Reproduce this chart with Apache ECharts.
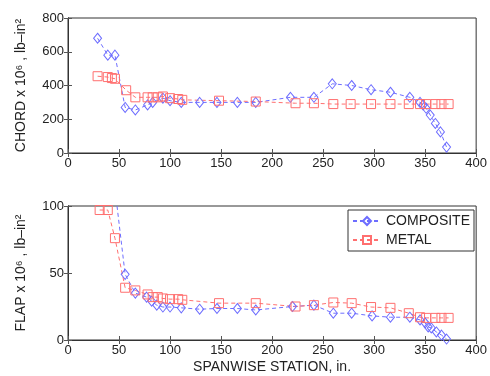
<!DOCTYPE html>
<html>
<head>
<meta charset="utf-8">
<script src="https://cdn.jsdelivr.net/npm/echarts@6/dist/echarts.min.js"></script>
<style>
  html, body { margin: 0; padding: 0; background: #fff; }
  #chart { width: 490px; height: 376px; }
</style>
</head>
<body>
<div id="chart"></div>
<script>
// chord stiffness (x 10^6 lb-in^2) vs spanwise station (in.)
const chordComposite = [
  [29, 680], [39, 580], [46, 580], [56, 270], [66, 255], [78, 285], [83, 300],
  [93, 325], [100, 310], [111, 300], [129, 300], [146, 300], [166, 300],
  [184, 300], [218, 330], [241, 330], [259, 410], [278, 400], [297, 375],
  [316, 360], [335, 330], [345, 300], [348, 285], [351, 265], [355, 225],
  [360, 175], [365, 125], [371, 35]
];
const chordMetal = [
  [29, 455], [39, 450], [43, 444], [46, 440], [57, 372], [66, 330], [78, 330],
  [83, 330], [88, 330], [93, 335], [100, 325], [108, 320], [112, 315],
  [148, 310], [184, 305], [223, 295], [241, 295], [260, 290], [277, 290],
  [297, 290], [316, 290], [334, 290], [345, 290], [351, 290], [360, 290],
  [366, 290], [373, 290]
];
// flap stiffness
const flapComposite = [
  [29, 150], [39, 130], [46, 113], [56, 49], [66, 35], [77, 32], [82, 29],
  [87, 26], [93, 24.6], [100, 24.6], [111, 24], [129, 23], [146, 23.5],
  [166, 23.5], [184, 22.4], [220, 25], [241, 26], [260, 20], [278, 20],
  [298, 18], [316, 17], [335, 17], [345, 15], [350, 12.7], [353, 9.7],
  [356, 9], [361, 6], [366, 3.7], [371, 0.7]
];
const flapMetal = [
  [31, 97], [39, 97], [46, 76], [56, 39], [66, 37], [78, 34], [83, 32],
  [88, 32], [93, 31], [100, 30.5], [108, 30.5], [112, 30], [148, 27.5],
  [184, 27.5], [223, 25], [241, 26], [260, 28], [278, 27.5], [297, 24.6],
  [316, 24], [334, 20], [345, 17], [351, 16.5], [360, 16.5], [366, 16.5],
  [373, 16.5]
];

const BLUE = "#6d6dff";
const RED = "#ff6f6f";
const FONT = "Liberation Sans, Arial, sans-serif";

const chart = echarts.init(document.getElementById("chart"), null, { renderer: "canvas" });

function xAxes(gridIndex, withName) {
  const common = {
    gridIndex, type: "value", min: 0, max: 400, interval: 50,
    axisLine: { lineStyle: { color: "#333" } },
    axisTick: { inside: true, length: 4, lineStyle: { color: "#555" } },
    splitLine: { show: false },
  };
  return [
    Object.assign({}, common, {
      position: "bottom",
      axisLabel: { color: "#222", fontSize: 13, fontFamily: FONT, margin: 4 },
      name: withName ? "SPANWISE STATION, in." : "",
      nameLocation: "middle", nameGap: 20,
      nameTextStyle: { color: "#222", fontSize: 14, fontFamily: FONT },
    }),
    Object.assign({}, common, { position: "top", axisLabel: { show: false } }),
  ];
}

function yAxes(gridIndex, max, interval, name) {
  const common = {
    gridIndex, type: "value", min: 0, max, interval,
    axisLine: { lineStyle: { color: "#333" } },
    axisTick: { inside: true, length: 4, lineStyle: { color: "#555" } },
    splitLine: { show: false },
  };
  return [
    Object.assign({}, common, {
      position: "left",
      axisLabel: { color: "#222", fontSize: 13, fontFamily: FONT, margin: 4 },
      name, nameLocation: "middle", nameRotate: 90, nameGap: 40,
      nameTextStyle: { color: "#222", fontSize: 14, fontFamily: FONT },
    }),
    Object.assign({}, common, { position: "right", axisLabel: { show: false } }),
  ];
}

function series(name, data, xi, yi, color, symbol) {
  return {
    name, type: "line", data, xAxisIndex: xi, yAxisIndex: yi,
    symbol, symbolSize: symbol === "diamond" ? [8, 10] : 9,
    showAllSymbol: true, clip: true,
    lineStyle: { color, width: 1, type: [4, 3] },
    itemStyle: { color: "transparent", borderColor: color, borderWidth: 1 },
    emphasis: { disabled: true },
    animation: false,
  };
}

chart.setOption({
  animation: false,
  grid: [
    { left: 68, top: 18, width: 410, height: 135, show: true, borderColor: "#333", borderWidth: 1 },
    { left: 68, top: 206, width: 410, height: 134, show: true, borderColor: "#333", borderWidth: 1 },
  ],
  xAxis: [...xAxes(0, false), ...xAxes(1, true)],
  yAxis: [
    ...yAxes(0, 800, 200, "CHORD x 10\u2076 , lb\u2013in\u00b2"),
    ...yAxes(1, 100, 50, "FLAP x 10\u2076 , lb\u2013in\u00b2"),
  ],
  legend: {
    data: ["COMPOSITE", "METAL"],
    orient: "vertical",
    left: 348, top: 210,
    backgroundColor: "#fff",
    borderColor: "#333", borderWidth: 1,
    padding: [4, 4, 4, 4],
    itemGap: 5, itemWidth: 28, itemHeight: 10,
    textStyle: { color: "#222", fontSize: 14, fontFamily: FONT },
  },
  series: [
    series("COMPOSITE", chordComposite, 0, 0, BLUE, "diamond"),
    series("METAL", chordMetal, 0, 0, RED, "rect"),
    series("COMPOSITE", flapComposite, 2, 2, BLUE, "diamond"),
    series("METAL", flapMetal, 2, 2, RED, "rect"),
  ],
});
</script>
</body>
</html>
